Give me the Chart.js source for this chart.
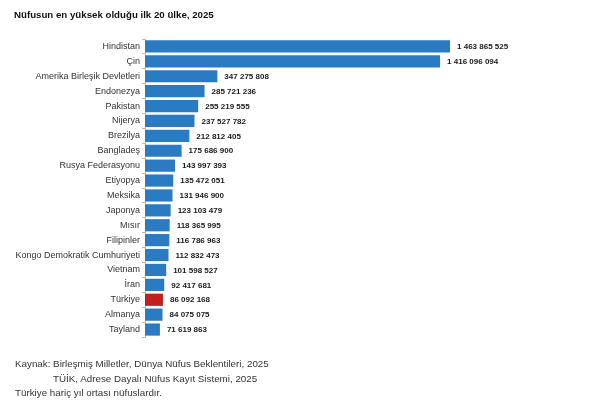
<!DOCTYPE html>
<html>
<head>
<meta charset="utf-8">
<script src="https://cdn.jsdelivr.net/npm/chart.js@4"></script>
<style>
  body { margin: 0; background: #fff; font-family: Arial, "Liberation Sans", sans-serif; }
  #wrap { position: relative; width: 613px; height: 410px; }
  #chart { position: absolute; left: 0; top: 0; }
  .txt { position: absolute; white-space: nowrap; color: #222; }
  #title { left: 14px; top: 9px; font-size: 9.7px; font-weight: bold; color: #111; }
  .foot { font-size: 9.8px; color: #333; }
</style>
</head>
<body>
<div id="wrap">
  <canvas id="chart" width="613" height="410"></canvas>
  <div id="title" class="txt">Nüfusun en yüksek olduğu ilk 20 ülke, 2025</div>
  <div class="txt foot" style="left:15px; top:358px;">Kaynak: Birleşmiş Milletler, Dünya Nüfus Beklentileri, 2025</div>
  <div class="txt foot" style="left:53px; top:373px;">TÜİK, Adrese Dayalı Nüfus Kayıt Sistemi, 2025</div>
  <div class="txt foot" style="left:15px; top:387px;">Türkiye hariç yıl ortası nüfuslardır.</div>
</div>
<script>
const countries = ['Hindistan', 'Çin', 'Amerika Birleşik Devletleri', 'Endonezya', 'Pakistan', 'Nijerya',
  'Brezilya', 'Bangladeş', 'Rusya Federasyonu', 'Etiyopya', 'Meksika', 'Japonya', 'Mısır', 'Filipinler',
  'Kongo Demokratik Cumhuriyeti', 'Vietnam', 'İran', 'Türkiye', 'Almanya', 'Tayland'];
const population = [1463865525, 1416096094, 347275808, 285721236, 255219555, 237527782,
  212812405, 175686900, 143997393, 135472051, 131946900, 123103479, 118365995, 116786963,
  112832473, 101598527, 92417681, 86092168, 84075075, 71619863];
const highlight = 'Türkiye';

const fmt = n => n.toString().replace(/\B(?=(\d{3})+(?!\d))/g, ' ');

// value labels right of each bar
const valueLabels = {
  id: 'valueLabels',
  afterDatasetsDraw(chart) {
    const ctx = chart.ctx;
    const meta = chart.getDatasetMeta(0);
    ctx.save();
    ctx.font = 'bold 8px Arial, "Liberation Sans", sans-serif';
    ctx.fillStyle = '#1a1a1a';
    ctx.textBaseline = 'middle';
    meta.data.forEach((bar, i) => {
      ctx.fillText(fmt(population[i]), bar.x + 7, bar.y + 0.5);
    });
    ctx.restore();
  }
};

new Chart(document.getElementById('chart'), {
  type: 'bar',
  data: {
    labels: countries,
    datasets: [{
      data: population,
      backgroundColor: countries.map(c => c === highlight ? '#c0201f' : '#2b7bc2'),
      barPercentage: 0.82,
      categoryPercentage: 1
    }]
  },
  options: {
    indexAxis: 'y',
    responsive: false,
    animation: false,
    layout: { padding: { top: 39, bottom: 73, left: 0, right: 20 } },
    plugins: { legend: { display: false }, tooltip: { enabled: false } },
    scales: {
      x: {
        display: false,
        min: 0,
        max: 2150000000
      },
      y: {
        afterFit: s => { s.width = 145; },
        grid: { drawOnChartArea: false, tickLength: 3, color: '#bbb' },
        border: { color: '#bbb' },
        ticks: {
          color: '#333',
          padding: 2,
          font: { family: 'Arial, "Liberation Sans", sans-serif', size: 9 }
        }
      }
    }
  },
  plugins: [valueLabels]
});
</script>
</body>
</html>
